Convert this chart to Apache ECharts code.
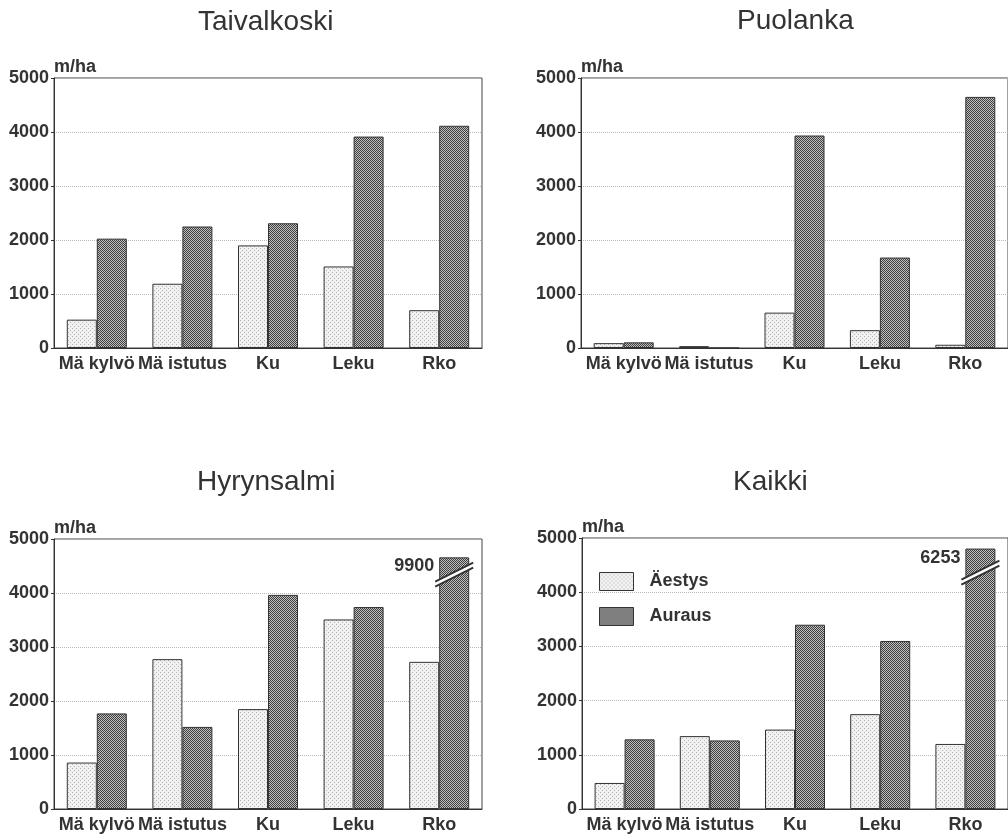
<!DOCTYPE html>
<html>
<head>
<meta charset="utf-8">
<script src="https://cdn.jsdelivr.net/npm/echarts@6/dist/echarts.min.js"></script>
<style>
  html, body { margin: 0; padding: 0; background: #fff; }
  #chart { width: 1008px; height: 834px; }
</style>
</head>
<body>
<div id="chart"></div>
<script>
// ---------------- data ----------------
const categories = ['Mä kylvö', 'Mä istutus', 'Ku', 'Leku', 'Rko'];
const panelTitles = ['Taivalkoski', 'Puolanka', 'Hyrynsalmi', 'Kaikki'];
const seriesNames = ['Äestys', 'Auraus'];
const yUnit = 'm/ha';

const taivalkoskiAestys = [525, 1190, 1900, 1510, 700];
const taivalkoskiAuraus = [2025, 2250, 2310, 3915, 4115];
const puolankaAestys = [90, 35, 655, 330, 60];
const puolankaAuraus = [105, 0, 3935, 1675, 4650];
const hyrynsalmiAestys = [860, 2775, 1850, 3510, 2725];
const hyrynsalmiAuraus = [1770, 1520, 3965, 3740, 9900];
const kaikkiAestys = [480, 1345, 1465, 1750, 1200];
const kaikkiAuraus = [1285, 1265, 3400, 3100, 6253];
// heights at which off-scale bars are drawn (broken bars)
const hyrynsalmiAurausShown = [null, null, null, null, 4660];
const kaikkiAurausShown = [null, null, null, null, 4805];
const hyrynsalmiBreakAt = [null, null, null, null, 4340];
const kaikkiBreakAt = [null, null, null, null, 4360];

const yMin = 0, yMax = 5000, yStep = 1000;

// ---------------- styling ----------------
const BAR_W = 30;
const TEXT = '#333';
const FONT = '"Liberation Sans", Arial, Helvetica, sans-serif';

function makePattern(w, h, bg, fg, pts) {
  const c = document.createElement('canvas');
  c.width = w; c.height = h;
  const g = c.getContext('2d');
  g.fillStyle = bg; g.fillRect(0, 0, w, h);
  g.fillStyle = fg;
  pts.forEach(p => g.fillRect(p[0], p[1], 1, 1));
  return { image: c, repeat: 'repeat' };
}
const lightFill = makePattern(4, 4, '#f1f1f1', '#b4b4b4', [[0, 0], [2, 2]]);
const darkFill = makePattern(2, 2, '#c0c0c0', '#3f3f3f', [[0, 0], [1, 1]]);

const grids = [
  { left: 54, top: 78, width: 428, height: 270 },
  { left: 581, top: 78, width: 428, height: 270 },
  { left: 54, top: 539, width: 428, height: 273 },
  { left: 582, top: 538, width: 428, height: 273 }
];
const titlePos = [[198, 22], [737, 21], [197, 482], [733, 482]];

const panels = [
  { a: taivalkoskiAestys, b: taivalkoskiAuraus, shown: null, brk: null },
  { a: puolankaAestys, b: puolankaAuraus, shown: null, brk: null },
  { a: hyrynsalmiAestys, b: hyrynsalmiAuraus, shown: hyrynsalmiAurausShown, brk: hyrynsalmiBreakAt },
  { a: kaikkiAestys, b: kaikkiAuraus, shown: kaikkiAurausShown, brk: kaikkiBreakAt }
];

const option = {
  animation: false,
  backgroundColor: '#fff',
  textStyle: { fontFamily: FONT },
  grid: grids.map(g => Object.assign({ show: true, borderColor: '#444', borderWidth: 1, backgroundColor: 'transparent' }, g)),
  xAxis: grids.map((g, i) => ({
    type: 'category', gridIndex: i, data: categories,
    axisLine: { show: true, lineStyle: { color: '#333', width: 1 } },
    axisTick: { show: false },
    axisLabel: { interval: 0, color: TEXT, fontWeight: 'bold', fontSize: 18, margin: 7, fontFamily: FONT },
    splitLine: { show: false }
  })),
  yAxis: grids.map((g, i) => ({
    type: 'value', gridIndex: i, min: yMin, max: yMax, interval: yStep,
    name: yUnit, nameLocation: 'end', nameGap: 11,
    nameTextStyle: { align: 'left', verticalAlign: 'middle', color: TEXT, fontWeight: 'bold', fontSize: 18, fontFamily: FONT },
    axisLine: { show: true, lineStyle: { color: '#333', width: 1 } },
    axisTick: { show: true, length: 3, lineStyle: { color: '#333' } },
    axisLabel: { color: TEXT, fontWeight: 'bold', fontSize: 18, margin: 5, fontFamily: FONT, formatter: v => String(v) },
    splitLine: { show: true, lineStyle: { color: '#b8b8b8', type: 'dotted', width: 1 } }
  })),
  legend: {
    data: seriesNames,
    orient: 'vertical',
    left: 599, top: 572,
    padding: 0,
    itemWidth: 34, itemHeight: 18, itemGap: 16,
    icon: 'rect',
    itemStyle: { borderColor: '#333', borderWidth: 1 },
    textStyle: { color: TEXT, fontWeight: 'bold', fontSize: 18, fontFamily: FONT, padding: [0, 0, 0, 11] },
    selectedMode: false
  },
  graphic: panelTitles.map((t, i) => ({
    type: 'text',
    x: titlePos[i][0], y: titlePos[i][1],
    style: { text: t, font: '28px ' + FONT, fill: '#333', align: 'left', verticalAlign: 'middle' }
  })),
  series: []
};

panels.forEach((p, i) => {
  option.series.push({
    name: seriesNames[0], type: 'bar', xAxisIndex: i, yAxisIndex: i,
    barWidth: BAR_W, barGap: '0%',
    itemStyle: { color: lightFill, borderColor: '#333', borderWidth: 1 },
    data: p.a
  });
  option.series.push({
    name: seriesNames[1], type: 'bar', xAxisIndex: i, yAxisIndex: i,
    barWidth: BAR_W, barGap: '0%',
    itemStyle: { color: darkFill, borderColor: '#333', borderWidth: 1 },
    data: p.b.map((v, k) => {
      if (p.shown && p.shown[k] != null) {
        return {
          value: p.shown[k],
          label: {
            show: true, formatter: String(v), position: [-5, 9],
            align: 'right', verticalAlign: 'middle',
            color: TEXT, fontSize: 18, fontWeight: 'bold', fontFamily: FONT
          }
        };
      }
      return v;
    })
  });
  if (p.brk) {
    const brkData = [];
    p.brk.forEach((v, k) => { if (v != null) brkData.push([k, v]); });
    option.series.push({
      type: 'custom', xAxisIndex: i, yAxisIndex: i, silent: true, z: 5,
      data: brkData,
      renderItem: function (params, api) {
        const c = api.coord([api.value(0), api.value(1)]);
        const cx = c[0] + BAR_W / 2, cy = c[1];
        const up = [[cx - 19, cy + 7], [cx + 19, cy - 12]];
        const lo = [[cx - 19, cy + 12], [cx + 19, cy - 7]];
        return {
          type: 'group',
          children: [
            { type: 'polygon', shape: { points: [up[0], up[1], lo[1], lo[0]] }, style: { fill: '#fff' } },
            { type: 'line', shape: { x1: up[0][0], y1: up[0][1], x2: up[1][0], y2: up[1][1] }, style: { stroke: '#333', lineWidth: 2 } },
            { type: 'line', shape: { x1: lo[0][0], y1: lo[0][1], x2: lo[1][0], y2: lo[1][1] }, style: { stroke: '#333', lineWidth: 2 } }
          ]
        };
      }
    });
  }
});

const chart = echarts.init(document.getElementById('chart'), null, { renderer: 'canvas' });
chart.setOption(option);
</script>
</body>
</html>
